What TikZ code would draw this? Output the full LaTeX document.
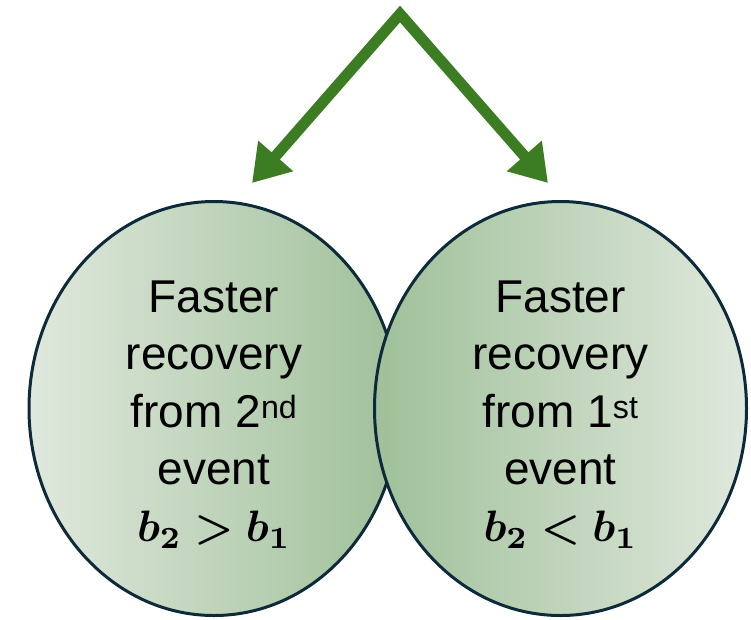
\documentclass[tikz,border=0pt]{standalone}
\usepackage{amsmath,bm}
\usepackage{graphicx}
\usepackage{fontspec}
\setmainfont{Liberation Sans}
\usetikzlibrary{shapes.geometric,arrows.meta}
\definecolor{arrowgreen}{HTML}{3C7D23}
\definecolor{edgeblue}{HTML}{0D2A3A}
\definecolor{lightgreen}{HTML}{E0E8DD}
\definecolor{darkgreen}{HTML}{9FC099}
\newcommand{\bigmath}[1]{\scalebox{4.4}{\fontsize{10}{12}\selectfont$\bm{#1}$}}
\begin{document}
\begin{tikzpicture}[x=1pt,y=-1pt,
  bubble/.style={ellipse, draw=edgeblue, line width=3pt, inner sep=0pt,
    minimum width=#1, minimum height=414},
  textblock/.style={inner sep=0pt, align=center, font=\fontsize{46}{57.3}\selectfont},
  connector/.style={draw=arrowgreen, line width=11pt, miter limit=20,
    {Triangle[length=36pt,width=44pt]}-{Triangle[length=36pt,width=44pt]}}]
\useasboundingbox (0,0) rectangle (751,619);
\node[bubble=370, left color=lightgreen, right color=darkgreen] (left) at (214,408.5) {};
\node[bubble=372, left color=darkgreen, right color=lightgreen] (right) at (560.5,408.5) {};
\node[textblock] (lefttext) at ([yshift=-6pt]left.center)
  {Faster\\recovery\\from 2\textsuperscript{nd}\\event\\\bigmath{b_2>b_1}};
\node[textblock] (righttext) at ([yshift=-6pt]right.center)
  {Faster\\recovery\\from 1\textsuperscript{st}\\event\\\bigmath{b_2<b_1}};
\coordinate (apex) at (400,14);
\coordinate (tipL) at (252,183);
\coordinate (tipR) at (548,183);
\draw[connector] (tipL) -- (apex) -- (tipR);
\end{tikzpicture}
\end{document}
